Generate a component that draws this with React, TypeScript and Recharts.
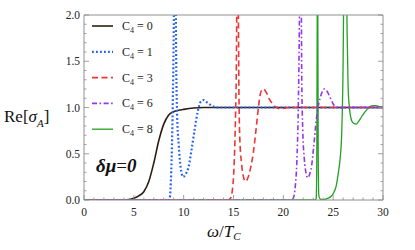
import React from 'react';
import { LineChart, Line, XAxis, YAxis, Legend, Label } from 'recharts';

// ---- data ----
const xTicks = [0, 1, 2, 3, 4, 5, 6, 7, 8, 9, 10, 11, 12, 13, 14, 15, 16, 17, 18, 19, 20, 21, 22, 23, 24, 25, 26, 27, 28, 29, 30];
const xMajorLabels = [0, 5, 10, 15, 20, 25, 30];
const yTicks = [0, 0.1, 0.2, 0.3, 0.4, 0.5, 0.6, 0.7, 0.8, 0.9, 1.0, 1.1, 1.2, 1.3, 1.4, 1.5, 1.6, 1.7, 1.8, 1.9, 2.0];
const yMajorLabels = [0, 0.5, 1.0, 1.5, 2.0];

const c0X = [0, 4, 4.5, 5, 5.5, 6, 6.5, 7, 7.5, 8, 8.5, 9, 9.5, 10, 11, 12, 13, 30];
const c0Y = [0, 0, 0.005, 0.02, 0.045, 0.09, 0.2, 0.4, 0.64, 0.82, 0.92, 0.955, 0.97, 0.98, 0.995, 1.0, 1.0, 1.0];

const c1X = [0, 8.5, 8.6, 8.75, 8.9, 9.0, 9.08, 9.13, 9.18, 9.25, 9.35, 9.5, 9.7, 9.95, 10.2, 10.5, 10.8, 11.1, 11.4, 11.7, 12, 12.4, 12.8, 13.5, 30];
const c1Y = [0, 0, 0.02, 0.3, 1.0, 1.8, 3, 5, 3, 1.5, 0.9, 0.6, 0.35, 0.25, 0.28, 0.36, 0.55, 0.76, 0.95, 1.06, 1.08, 1.05, 1.02, 1.0, 1.0];

const c3X = [0, 14.4, 14.7, 14.9, 15.05, 15.2, 15.3, 15.36, 15.4, 15.45, 15.52, 15.62, 15.8, 16.0, 16.2, 16.45, 16.7, 17.0, 17.25, 17.5, 17.75, 18.0, 18.3, 18.6, 19.0, 19.5, 20, 20.5, 30];
const c3Y = [0, 0, 0.02, 0.12, 0.35, 0.9, 1.6, 3, 5, 3, 1.5, 0.7, 0.4, 0.25, 0.2, 0.24, 0.34, 0.52, 0.75, 1.0, 1.17, 1.2, 1.16, 1.09, 1.03, 0.99, 0.99, 1.0, 1.0];

const c6X = [0, 20.8, 21.0, 21.2, 21.35, 21.5, 21.6, 21.68, 21.73, 21.78, 21.85, 21.95, 22.1, 22.3, 22.45, 22.65, 22.85, 23.05, 23.3, 23.55, 23.8, 24.1, 24.3, 24.6, 24.9, 25.2, 25.6, 26, 30];
const c6Y = [0, 0, 0.02, 0.15, 0.4, 1.0, 1.8, 3, 5, 3, 1.3, 0.75, 0.45, 0.28, 0.24, 0.28, 0.38, 0.58, 0.86, 1.04, 1.14, 1.2, 1.19, 1.13, 1.06, 1.01, 0.995, 1.0, 1.0];

const c8X = [0, 23.2, 23.3, 23.36, 23.4, 23.43, 23.46, 23.5, 23.56, 23.7, 24, 24.5, 24.8, 25.1, 25.3, 25.5, 25.7, 25.85, 26.0, 26.1, 26.2, 26.3, 26.4, 26.5, 26.65, 26.85, 27.05, 27.3, 27.55, 27.85, 28.1, 28.4, 28.7, 29.0, 29.3, 29.6, 30];
const c8Y = [0, 0, 0.02, 0.5, 2.0, 5, 2.0, 0.5, 0.05, 0.01, 0.005, 0.02, 0.04, 0.09, 0.15, 0.28, 0.45, 0.7, 1.5, 2.8, 4, 2.8, 1.8, 1.22, 0.98, 0.86, 0.83, 0.82, 0.85, 0.9, 0.94, 0.98, 1.01, 1.02, 1.02, 1.01, 1.0];

const toData = (xs: number[], ys: number[]) => xs.map((x, i) => ({ x, y: ys[i] }));

type Series = { key: string; label: string; xs: number[]; ys: number[]; color: string; dash?: string; width: number };

const series: Series[] = [
  { key: 'c0', label: '0', xs: c0X, ys: c0Y, color: '#2e1d10', width: 1.6 },
  { key: 'c1', label: '1', xs: c1X, ys: c1Y, color: '#2463ee', dash: '1.8 2.2', width: 2.2 },
  { key: 'c3', label: '3', xs: c3X, ys: c3Y, color: '#f03434', dash: '6 3.5', width: 1.6 },
  { key: 'c6', label: '6', xs: c6X, ys: c6Y, color: '#9436ee', dash: '5 2.5 1.6 2.5', width: 1.6 },
  { key: 'c8', label: '8', xs: c8X, ys: c8Y, color: '#25a025', width: 1.3 },
];
const drawOrder = ['c0', 'c8', 'c1', 'c3', 'c6'];

const SERIF = "'Liberation Serif', 'Times New Roman', Times, serif";
const TICK = '#8a8a8a';
const FRAME = '#8f8f8f';
const TEXTC = '#222';

const isMajorX = (v: number) => xMajorLabels.indexOf(v) >= 0;
const isMajorY = (v: number) => yMajorLabels.some((m) => Math.abs(m - v) < 1e-6);

const txt = (size: number, extra: any = {}) => ({ fontFamily: SERIF, fontSize: size, ...extra });

const BottomTick = (p: any) => {
  const v = p.payload.value;
  const major = isMajorX(v);
  return (
    <g>
      <line x1={p.x} x2={p.x} y1={p.y} y2={p.y - (major ? 5 : 2.5)} stroke={TICK} strokeWidth={0.8} />
      {major && (
        <text x={p.x} y={p.y + 16} textAnchor="middle" style={txt(11.5)} fill={TEXTC}>
          {v}
        </text>
      )}
    </g>
  );
};
const TopTick = (p: any) => {
  const v = p.payload.value;
  const major = isMajorX(v);
  return <line x1={p.x} x2={p.x} y1={p.y} y2={p.y + (major ? 5 : 2.5)} stroke={TICK} strokeWidth={0.8} />;
};
const LeftTick = (p: any) => {
  const v = p.payload.value;
  const major = isMajorY(v);
  return (
    <g>
      <line x1={p.x} x2={p.x + (major ? 5 : 2.5)} y1={p.y} y2={p.y} stroke={TICK} strokeWidth={0.8} />
      {major && (
        <text x={p.x - 4} y={p.y + 4} textAnchor="end" style={txt(11.5)} fill={TEXTC}>
          {v.toFixed(1)}
        </text>
      )}
    </g>
  );
};
const RightTick = (p: any) => {
  const v = p.payload.value;
  const major = isMajorY(v);
  return <line x1={p.x} x2={p.x - (major ? 5 : 2.5)} y1={p.y} y2={p.y} stroke={TICK} strokeWidth={0.8} />;
};

const YLabel = () => (
  <text x={4} y={122} style={txt(17)} fill="#111">
    Re[<tspan style={{ fontStyle: 'italic' }}>σ</tspan>
    <tspan style={{ fontStyle: 'italic', fontSize: 11 }} dy={5}>A</tspan>
    <tspan dy={-5}>]</tspan>
  </text>
);
const XLabel = () => (
  <text x={207} y={237} style={txt(17)} fill="#111">
    <tspan style={{ fontStyle: 'italic' }}>ω</tspan>
    <tspan>/</tspan>
    <tspan style={{ fontStyle: 'italic' }}>T</tspan>
    <tspan style={{ fontStyle: 'italic', fontSize: 11 }} dy={3}>C</tspan>
  </text>
);
const MuLabel = () => (
  <text x={96} y={172} style={txt(19, { fontWeight: 'bold', fontStyle: 'italic' })} fill="#111">
    δμ<tspan style={{ fontWeight: 'normal', fontStyle: 'normal' }}>=</tspan>0
  </text>
);

const LegendContent = () => (
  <svg width={120} height={130} style={{ display: 'block' }}>
    {series.map((s, i) => {
      const y = 10 + i * 25.8;
      return (
        <g key={s.key}>
          <line x1={4} x2={25} y1={y} y2={y} stroke={s.color} strokeWidth={s.width} strokeDasharray={s.dash} />
          <text x={34} y={y + 4} style={txt(12)} fill={TEXTC}>
            C<tspan style={{ fontSize: 8 }} dy={3}>4</tspan>
            <tspan dy={-3}> = {s.label}</tspan>
          </text>
        </g>
      );
    })}
  </svg>
);

export default function App() {
  return (
    <div style={{ position: 'absolute', left: 0, top: 0, width: 415, height: 250, background: '#fff' }}>
      <LineChart width={415} height={250} margin={{ top: 14, right: 31, bottom: 49, left: 83 }}>
        <XAxis
          xAxisId="b"
          dataKey="x"
          type="number"
          domain={[0, 30]}
          ticks={xTicks}
          interval={0}
          height={1}
          tickSize={0}
          tickMargin={0}
          tick={BottomTick}
          axisLine={{ stroke: FRAME }}
          tickLine={false}
        >
          <Label content={XLabel} />
        </XAxis>
        <XAxis
          xAxisId="t"
          orientation="top"
          dataKey="x"
          type="number"
          domain={[0, 30]}
          ticks={xTicks}
          interval={0}
          height={1}
          tickSize={0}
          tickMargin={0}
          tick={TopTick}
          axisLine={{ stroke: FRAME }}
          tickLine={false}
        >
          <Label content={MuLabel} />
        </XAxis>
        <YAxis
          yAxisId="l"
          type="number"
          domain={[0, 2]}
          allowDataOverflow
          ticks={yTicks}
          interval={0}
          width={1}
          tickSize={0}
          tickMargin={0}
          tick={LeftTick}
          axisLine={{ stroke: FRAME }}
          tickLine={false}
        >
          <Label content={YLabel} />
        </YAxis>
        <YAxis
          yAxisId="r"
          orientation="right"
          type="number"
          domain={[0, 2]}
          allowDataOverflow
          ticks={yTicks}
          interval={0}
          width={1}
          tickSize={0}
          tickMargin={0}
          tick={RightTick}
          axisLine={{ stroke: FRAME }}
          tickLine={false}
        />
        {drawOrder.map((k) => {
          const s = series.find((q) => q.key === k)!;
          return (
            <Line
              key={s.key}
              xAxisId="b"
              yAxisId="l"
              data={toData(s.xs, s.ys)}
              dataKey="y"
              name={`C4 = ${s.label}`}
              type="monotone"
              stroke={s.color}
              strokeWidth={s.width}
              strokeDasharray={s.dash}
              dot={false}
              activeDot={false}
              isAnimationActive={false}
            />
          );
        })}
        <Legend
          layout="vertical"
          align="center"
          verticalAlign="middle"
          content={LegendContent}
          wrapperStyle={{ position: 'absolute', left: 88, top: 16, width: 120, height: 130 }}
        />
      </LineChart>
    </div>
  );
}
